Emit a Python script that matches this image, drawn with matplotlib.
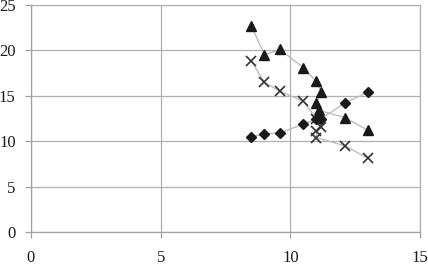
import matplotlib
matplotlib.use("Agg")
import matplotlib.pyplot as plt

tri_x = [8.5, 9.0, 9.6, 10.5, 11.0, 11.2, 11.0, 11.1, 12.1, 13.0]
tri_y = [22.7, 19.5, 20.1, 18.1, 16.6, 15.4, 14.2, 13.4, 12.6, 11.2]

dia_x = [8.5, 9.0, 9.6, 10.5, 11.0, 11.1, 11.2, 12.1, 13.0]
dia_y = [10.5, 10.8, 10.9, 11.9, 12.4, 12.6, 12.5, 14.2, 15.4]

x_x = [8.5, 9.0, 9.6, 10.5, 11.0, 11.2, 11.0, 11.0, 12.1, 13.0]
x_y = [18.8, 16.5, 15.5, 14.4, 12.5, 11.6, 11.1, 10.4, 9.5, 8.1]

xticks = [0, 5, 10, 15]
yticks = [0, 5, 10, 15, 20, 25]

plt.rcParams['font.family'] = ['Liberation Serif', 'DejaVu Serif']

fig = plt.figure(figsize=(4.28, 2.66), dpi=100)
ax = fig.add_axes([31/428, 1-232/266, (420-31)/428, (232-5)/266])

line_c = '#bdbdbd'
ax.plot(tri_x, tri_y, color=line_c, lw=1.0, marker='^', ms=7, mfc='#1a1a1a', mec='#1a1a1a', zorder=3)
ax.plot(x_x, x_y, color=line_c, lw=1.0, marker='x', ms=7, mfc='#333333', mec='#333333', mew=1.2, zorder=3)
ax.plot(dia_x, dia_y, color=line_c, lw=1.0, marker='D', ms=5, mfc='#1a1a1a', mec='#1a1a1a', zorder=3)

ax.set_xlim(0, 15)
ax.set_ylim(0, 25)
ax.set_xticks(xticks)
ax.set_yticks(yticks)
ax.grid(True, color='#b0b0b0', lw=0.9)
ax.set_axisbelow(True)
for s in ax.spines.values():
    s.set_color('#a0a0a0')
    s.set_linewidth(0.9)
ax.spines['top'].set_color('#b0b0b0')
ax.spines['right'].set_color('#b0b0b0')
ax.tick_params(axis='both', colors='#a0a0a0', labelcolor='#1a1a1a', length=4, width=0.9, labelsize=12)
ax.tick_params(axis='x', pad=9)
ax.tick_params(axis='y', pad=7)

fig.savefig('out.png', dpi=100)
